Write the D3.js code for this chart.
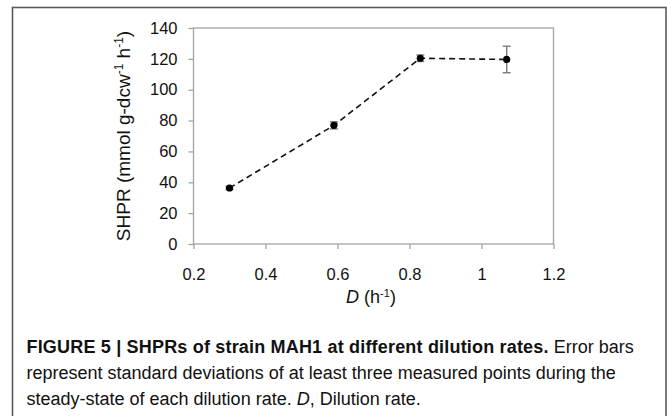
<!DOCTYPE html>
<html>
<head>
<meta charset="utf-8">
<script src="https://cdn.jsdelivr.net/npm/d3@7"></script>
<style>
  html, body { margin: 0; padding: 0; background: #fff; }
  svg { display: block; }
</style>
</head>
<body>
<svg id="chart" width="667" height="416"></svg>
<script>
// dilution rate D (h-1), SHPR and its standard deviation
const dilution = [0.30, 0.59, 0.83, 1.07];
const shpr = [36.3, 76.9, 120.4, 119.6];
const shprSd = [1.0, 2.3, 2.1, 8.6];
const xTicks = [0.2, 0.4, 0.6, 0.8, 1, 1.2];
const yTicks = [0, 20, 40, 60, 80, 100, 120, 140];

const svg = d3.select(`#chart`);
const sans = `"Liberation Sans", Arial, sans-serif`;

// outer figure frame
svg.append(`rect`)
  .attr(`x`, 12.5).attr(`y`, 7.5)
  .attr(`width`, 653.5).attr(`height`, 430)
  .attr(`fill`, `none`).attr(`stroke`, `#5a5a5a`).attr(`stroke-width`, 1.6);

const plot = { left: 193.5, right: 553.5, top: 28, bottom: 244 };

const x = d3.scaleLinear().domain([0.2, 1.2]).range([plot.left, plot.right]);
const y = d3.scaleLinear().domain([0, 140]).range([plot.bottom, plot.top]);

// plot frame
svg.append(`rect`)
  .attr(`x`, plot.left).attr(`y`, plot.top)
  .attr(`width`, plot.right - plot.left).attr(`height`, plot.bottom - plot.top)
  .attr(`fill`, `none`).attr(`stroke`, `#a3a3a3`).attr(`stroke-width`, 1.3);

const xAxis = svg.append(`g`)
  .attr(`transform`, `translate(0,${plot.bottom})`)
  .call(d3.axisBottom(x).tickValues(xTicks).tickFormat(d3.format(`~g`)).tickSize(5).tickPadding(19));

const yAxis = svg.append(`g`)
  .attr(`transform`, `translate(${plot.left},0)`)
  .call(d3.axisLeft(y).tickValues(yTicks).tickSize(5).tickPadding(11));

[xAxis, yAxis].forEach(g => {
  g.select(`.domain`).remove();
  g.selectAll(`.tick line`).attr(`stroke`, `#a3a3a3`).attr(`stroke-width`, 1.3);
  g.selectAll(`.tick text`)
    .attr(`fill`, `#111`)
    .style(`font-family`, sans)
    .style(`font-size`, `16.5px`);
});

// y axis title
const yTitle = svg.append(`text`)
  .attr(`transform`, `translate(130,136) rotate(-90)`)
  .attr(`text-anchor`, `middle`)
  .style(`font-family`, sans)
  .style(`font-size`, `19px`)
  .attr(`fill`, `#111`);
yTitle.append(`tspan`).text(`SHPR (mmol g-dcw`);
yTitle.append(`tspan`).attr(`dy`, -7).style(`font-size`, `12px`).text(`-1`);
yTitle.append(`tspan`).attr(`dy`, 7).text(` h`);
yTitle.append(`tspan`).attr(`dy`, -7).style(`font-size`, `12px`).text(`-1`);
yTitle.append(`tspan`).attr(`dy`, 7).text(`)`);

// x axis title
const xTitle = svg.append(`text`)
  .attr(`x`, 371).attr(`y`, 303)
  .attr(`text-anchor`, `middle`)
  .style(`font-family`, sans)
  .style(`font-size`, `18px`)
  .attr(`fill`, `#111`);
xTitle.append(`tspan`).style(`font-style`, `italic`).text(`D`);
xTitle.append(`tspan`).text(` (h`);
xTitle.append(`tspan`).attr(`dy`, -6).style(`font-size`, `11px`).text(`-1`);
xTitle.append(`tspan`).attr(`dy`, 6).text(`)`);

const points = dilution.map((d, i) => ({ d, v: shpr[i], sd: shprSd[i] }));

// dashed connecting line
svg.append(`path`)
  .datum(points)
  .attr(`fill`, `none`)
  .attr(`stroke`, `#111`)
  .attr(`stroke-width`, 1.6)
  .attr(`stroke-dasharray`, `6,4`)
  .attr(`d`, d3.line().x(p => x(p.d)).y(p => y(p.v)));

// error bars
const err = svg.append(`g`).attr(`stroke`, `#7a7a7a`).attr(`stroke-width`, 1.4);
err.selectAll(`.stem`).data(points).enter().append(`line`)
  .attr(`x1`, p => x(p.d)).attr(`x2`, p => x(p.d))
  .attr(`y1`, p => y(p.v + p.sd)).attr(`y2`, p => y(p.v - p.sd));
err.selectAll(`.capTop`).data(points).enter().append(`line`)
  .attr(`x1`, p => x(p.d) - 4).attr(`x2`, p => x(p.d) + 4)
  .attr(`y1`, p => y(p.v + p.sd)).attr(`y2`, p => y(p.v + p.sd));
err.selectAll(`.capBottom`).data(points).enter().append(`line`)
  .attr(`x1`, p => x(p.d) - 4).attr(`x2`, p => x(p.d) + 4)
  .attr(`y1`, p => y(p.v - p.sd)).attr(`y2`, p => y(p.v - p.sd));

svg.selectAll(`.dot`).data(points).enter().append(`circle`)
  .attr(`cx`, p => x(p.d)).attr(`cy`, p => y(p.v))
  .attr(`r`, 3.6).attr(`fill`, `#000`);

// caption
const caption = svg.append(`text`)
  .style(`font-family`, sans)
  .style(`font-size`, `18px`)
  .attr(`fill`, `#111`);
const line1 = caption.append(`tspan`).attr(`x`, 26.5).attr(`y`, 353);
line1.append(`tspan`)
  .style(`font-weight`, `bold`)
  .attr(`textLength`, 522)
  .attr(`lengthAdjust`, `spacing`)
  .text(`FIGURE 5 | SHPRs of strain MAH1 at different dilution rates.`);
line1.append(`tspan`).text(` Error bars`);
caption.append(`tspan`).attr(`x`, 26.5).attr(`y`, 379)
  .text(`represent standard deviations of at least three measured points during the`);
const line3 = caption.append(`tspan`).attr(`x`, 26.5).attr(`y`, 405);
line3.append(`tspan`).text(`steady-state of each dilution rate. `);
line3.append(`tspan`).style(`font-style`, `italic`).text(`D`);
line3.append(`tspan`).text(`, Dilution rate.`);
</script>
</body>
</html>
